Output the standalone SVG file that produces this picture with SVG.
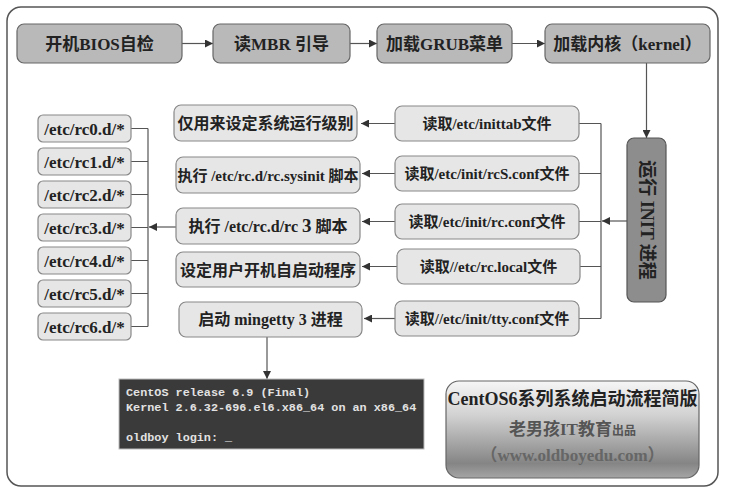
<svg xmlns="http://www.w3.org/2000/svg" width="731" height="500" viewBox="0 0 731 500">
<defs>
<marker id="ah" viewBox="0 0 10 10" refX="10" refY="5" markerWidth="8" markerHeight="8" markerUnits="userSpaceOnUse" orient="auto">
<path d="M0,0 L10,5 L0,10 z" fill="#333"/>
</marker>
<linearGradient id="g" x1="0" y1="0" x2="0" y2="1">
<stop offset="0" stop-color="#f6f6f6"/>
<stop offset="0.35" stop-color="#d2d2d2"/>
<stop offset="0.85" stop-color="#858585"/>
<stop offset="1" stop-color="#a5a5a5"/>
</linearGradient>
<style>
.t{font-family:"Liberation Serif","Noto Sans CJK SC",serif;font-weight:bold;fill:#222;text-anchor:middle}
.top rect{fill:#b9b9b9;stroke:#666;stroke-width:1.2}
.lt rect{fill:#e6e6e6;stroke:#888;stroke-width:1.2}
.c{fill:none;stroke:#555;stroke-width:1.2}
.a{fill:none;stroke:#555;stroke-width:1.2;marker-end:url(#ah)}
.m{font-family:"Liberation Mono","DejaVu Sans Mono",monospace;font-size:11.8px;fill:#e2e2e2;font-weight:bold}
</style>
</defs>
<rect width="731" height="500" fill="#fff"/>
<rect x="7" y="7" width="711" height="479" rx="14" fill="none" stroke="#555" stroke-width="1.5"/>

<g id="connectors">
<line class="a" x1="182" y1="43.5" x2="213" y2="43.5"/>
<line class="a" x1="350" y1="43.5" x2="377" y2="43.5"/>
<line class="a" x1="512" y1="43.5" x2="545" y2="43.5"/>
<line class="a" x1="646.5" y1="63" x2="646.5" y2="138"/>
<line class="a" x1="627" y1="221" x2="602" y2="221"/>
<path class="c" d="M579,123.5 H601 M579,173.5 H601 M579,221.5 H601 M580,266.5 H601 M579,318.5 H601 M601,123.5 V318.5"/>
<line class="a" x1="395" y1="123.5" x2="361" y2="123.5"/>
<line class="a" x1="395" y1="173.5" x2="362" y2="173.5"/>
<line class="a" x1="395" y1="221.5" x2="362" y2="221.5"/>
<line class="a" x1="397" y1="266.5" x2="362" y2="266.5"/>
<line class="a" x1="395" y1="318.5" x2="364" y2="318.5"/>
<path class="c" d="M131,128.5 H148 M131,161.5 H148 M131,194.5 H148 M131,227.5 H148 M131,260.5 H148 M131,293.5 H148 M131,326.5 H148 M148,128.5 V326.5"/>
<line class="a" x1="176" y1="227" x2="149" y2="227"/>
<line class="a" x1="267" y1="337" x2="267" y2="379"/>
</g>

<g id="n-bios" class="top"><rect x="17" y="24" width="165" height="39" rx="7"/><text class="t" x="99.5" y="49.5" font-size="17">开机BIOS自检</text></g>
<g id="n-mbr" class="top"><rect x="213" y="24" width="137" height="39" rx="7"/><text class="t" x="281.5" y="49.5" font-size="17">读MBR 引导</text></g>
<g id="n-grub" class="top"><rect x="377" y="24" width="135" height="39" rx="7"/><text class="t" x="444.5" y="49.5" font-size="17">加载GRUB菜单</text></g>
<g id="n-kernel" class="top"><rect x="545" y="24" width="165" height="39" rx="7"/><text class="t" x="627.5" y="49.5" font-size="17">加载内核（kernel）</text></g>

<g id="n-init"><rect x="627" y="138" width="39" height="164" rx="7" fill="#8d8d8d" stroke="#555" stroke-width="1.2"/><text class="t" transform="translate(640.5,220) rotate(90)" x="0" y="0" font-size="18">运行 INIT 进程</text></g>

<g id="r-inittab" class="lt"><rect x="395" y="106" width="184" height="35" rx="7"/><text class="t" x="487" y="129" font-size="15">读取/etc/inittab文件</text></g>
<g id="r-rcs" class="lt"><rect x="395" y="156" width="184" height="35" rx="7"/><text class="t" x="487" y="179" font-size="15">读取/etc/init/rcS.conf文件</text></g>
<g id="r-rc" class="lt"><rect x="395" y="204" width="184" height="35" rx="7"/><text class="t" x="487" y="227" font-size="15">读取/etc/init/rc.conf文件</text></g>
<g id="r-local" class="lt"><rect x="397" y="249" width="183" height="35" rx="7"/><text class="t" x="488.5" y="272" font-size="15">读取//etc/rc.local文件</text></g>
<g id="r-tty" class="lt"><rect x="395" y="301" width="184" height="35" rx="7"/><text class="t" x="487" y="324" font-size="15">读取//etc/init/tty.conf文件</text></g>

<g id="m-level" class="lt"><rect x="174" y="105" width="183" height="36" rx="7"/><text class="t" x="265.5" y="129" font-size="16">仅用来设定系统运行级别</text></g>
<g id="m-sysinit" class="lt"><rect x="176" y="157" width="184" height="36" rx="7"/><text class="t" x="268" y="181" font-size="15">执行 /etc/rc.d/rc.sysinit 脚本</text></g>
<g id="m-rc3" class="lt"><rect x="176" y="208" width="184" height="36" rx="7"/><text class="t" x="268" y="232" font-size="16">执行 /etc/rc.d/rc <tspan font-size="19">3</tspan> 脚本</text></g>
<g id="m-user" class="lt"><rect x="176" y="252" width="184" height="35" rx="7"/><text class="t" x="268" y="275.5" font-size="16">设定用户开机自启动程序</text></g>
<g id="m-getty" class="lt"><rect x="179" y="302" width="183" height="35" rx="7"/><text class="t" x="270.5" y="325" font-size="16">启动 mingetty 3 进程</text></g>

<g id="rc0" class="lt"><rect x="38" y="115" width="93" height="27" rx="5"/><text class="t" x="84.5" y="134.5" font-size="17">/etc/rc0.d/*</text></g>
<g id="rc1" class="lt"><rect x="38" y="148" width="93" height="27" rx="5"/><text class="t" x="84.5" y="167.5" font-size="17">/etc/rc1.d/*</text></g>
<g id="rc2" class="lt"><rect x="38" y="181" width="93" height="27" rx="5"/><text class="t" x="84.5" y="200.5" font-size="17">/etc/rc2.d/*</text></g>
<g id="rc3" class="lt"><rect x="38" y="214" width="93" height="27" rx="5"/><text class="t" x="84.5" y="233.5" font-size="17">/etc/rc3.d/*</text></g>
<g id="rc4" class="lt"><rect x="38" y="247" width="93" height="27" rx="5"/><text class="t" x="84.5" y="266.5" font-size="17">/etc/rc4.d/*</text></g>
<g id="rc5" class="lt"><rect x="38" y="280" width="93" height="27" rx="5"/><text class="t" x="84.5" y="299.5" font-size="17">/etc/rc5.d/*</text></g>
<g id="rc6" class="lt"><rect x="38" y="313" width="93" height="27" rx="5"/><text class="t" x="84.5" y="332.5" font-size="17">/etc/rc6.d/*</text></g>

<g id="terminal">
<rect x="119" y="379" width="305" height="70" fill="#3a3a3a" stroke="#bbb" stroke-width="1"/>
<text class="m" x="126" y="396">CentOS release 6.9 (Final)</text>
<text class="m" x="126" y="411">Kernel 2.6.32-696.el6.x86_64 on an x86_64</text>
<text class="m" x="126" y="441">oldboy login: _</text>
</g>

<g id="title">
<rect x="446" y="381" width="253" height="97" rx="13" fill="url(#g)" stroke="#666" stroke-width="1.2"/>
<text class="t" x="572.5" y="405" font-size="18">CentOS6系列系统启动流程简版</text>
<text class="t" x="572.5" y="435" font-size="17" style="fill:#555">老男孩IT教育<tspan font-size="12">出品</tspan></text>
<text class="t" x="572.5" y="461" font-size="17" style="fill:#666">（www.oldboyedu.com）</text>
</g>
</svg>
